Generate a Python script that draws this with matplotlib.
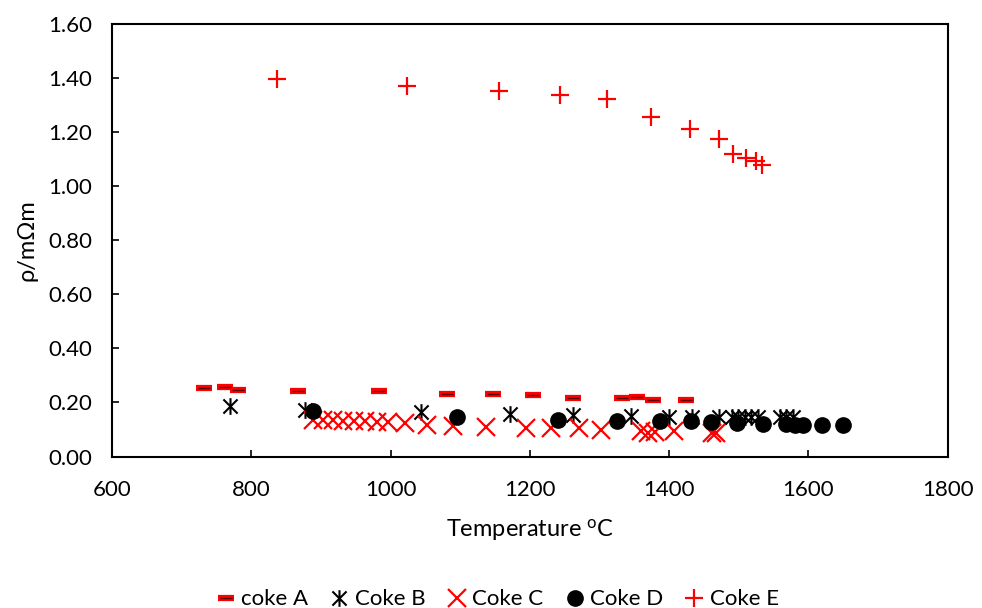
import numpy as np
import matplotlib
matplotlib.use("Agg")
import matplotlib.pyplot as plt
from matplotlib.path import Path
from matplotlib.ticker import FormatStrFormatter

plt.rcParams['font.family'] = ['Lato', 'DejaVu Sans']
plt.rcParams['mathtext.default'] = 'regular'

# resistivity (mOhm m) against temperature (C) for each coke
coke_a_t = [732, 763, 781, 867, 983, 1081, 1147, 1204, 1262, 1333, 1354, 1377, 1425]
coke_a_r = [0.255, 0.258, 0.248, 0.243, 0.242, 0.231, 0.230, 0.226, 0.215, 0.217, 0.221, 0.210, 0.211]

coke_b_t = [770, 877, 1044, 1172, 1262, 1345, 1400, 1433, 1471, 1491, 1499, 1509, 1518, 1528,
            1559, 1568, 1578]
coke_b_r = [0.186, 0.174, 0.164, 0.158, 0.154, 0.149, 0.146, 0.146, 0.146, 0.145, 0.145, 0.145,
            0.145, 0.145, 0.145, 0.145, 0.145]

coke_c_t = [889, 903, 918, 932, 947, 963, 980, 997, 1021, 1052, 1090, 1137, 1194, 1231, 1271,
            1302, 1360, 1370, 1380, 1407, 1461, 1468]
coke_c_r = [0.136, 0.135, 0.134, 0.133, 0.131, 0.130, 0.129, 0.128, 0.125, 0.118, 0.113, 0.111,
            0.106, 0.106, 0.106, 0.100, 0.093, 0.086, 0.090, 0.093, 0.088, 0.088]

coke_d_t = [889, 1095, 1241, 1325, 1387, 1431, 1460, 1497, 1535, 1568, 1581, 1592, 1620, 1650]
coke_d_r = [0.168, 0.146, 0.136, 0.133, 0.133, 0.131, 0.127, 0.125, 0.121, 0.119, 0.118, 0.117,
            0.117, 0.117]

coke_e_t = [837, 1024, 1156, 1244, 1311, 1374, 1430, 1472, 1492, 1511, 1525, 1533]
coke_e_r = [1.396, 1.371, 1.353, 1.337, 1.321, 1.256, 1.212, 1.174, 1.118, 1.105, 1.093, 1.078]

# Excel-style star: vertical bar plus an X
star = Path([(0, -1), (0, 1), (-0.85, -0.85), (0.85, 0.85), (-0.85, 0.85), (0.85, -0.85)],
            [Path.MOVETO, Path.LINETO, Path.MOVETO, Path.LINETO, Path.MOVETO, Path.LINETO])

fig = plt.figure(figsize=(9.82, 6.08), dpi=100)
ax = fig.add_axes([0.114, 0.249, 0.851, 0.712])

a1, = ax.plot(coke_a_t, coke_a_r, ls='none', marker='_', ms=12, mew=4.5, color='#ff0000')
a2, = ax.plot(coke_a_t, coke_a_r, ls='none', marker='_', ms=9, mew=1, color='#5a0000')
b, = ax.plot(coke_b_t, coke_b_r, ls='none', marker=star, ms=12, mew=1.5, color='black')
c, = ax.plot(coke_c_t, coke_c_r, ls='none', marker='x', ms=13, mew=1.6, color='#ff0000')
d, = ax.plot(coke_d_t, coke_d_r, ls='none', marker='o', ms=11, color='black')
e, = ax.plot(coke_e_t, coke_e_r, ls='none', marker='+', ms=13, mew=1.6, color='#ff0000')

ax.set_xlim(600, 1800)
ax.set_ylim(0, 1.6)
ax.set_xticks(np.arange(600, 1801, 200))
ax.set_yticks(np.arange(0, 1.61, 0.2))
ax.yaxis.set_major_formatter(FormatStrFormatter('%.2f'))
ax.tick_params(direction='in', length=5, width=1.2, labelsize=16)
ax.tick_params(axis='x', pad=17)
ax.tick_params(axis='y', pad=14)
for s in ax.spines.values():
    s.set_linewidth(1.5)

ax.set_xlabel('Temperature $^{o}$C', fontsize=17, labelpad=12)
ax.set_ylabel('ρ/mΩm', fontsize=17, labelpad=8)

fig.legend([(a1, a2), b, c, d, e], ['coke A', 'Coke B', 'Coke C', 'Coke D', 'Coke E'],
           loc='lower center', bbox_to_anchor=(0.507, -0.035), ncol=5, frameon=False,
           fontsize=16, handlelength=0.8, handletextpad=0.3, columnspacing=1.0)

fig.savefig('out.png', dpi=100)
